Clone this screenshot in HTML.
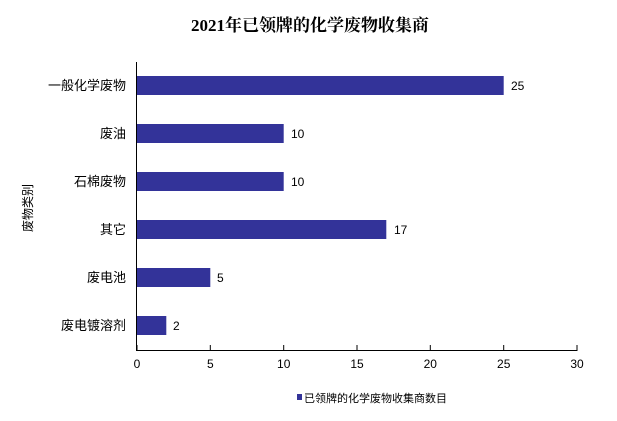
<!DOCTYPE html>
<html><head><meta charset="utf-8"><style>
html,body{margin:0;padding:0;background:#fff;}
svg{display:block;}
text{font-family:"Liberation Sans","Noto Sans CJK SC",sans-serif;fill:#000;}
</style></head><body>
<svg width="617" height="421" viewBox="0 0 617 421" xmlns="http://www.w3.org/2000/svg">
<text x="310" y="31" text-anchor="middle" style="font-family:'Liberation Serif','Noto Serif CJK SC',serif;font-size:17px;font-weight:bold;">2021年已领牌的化学废物收集商</text>
<g fill="#333399">
<rect x="137" y="76" width="366.7" height="19"/>
<rect x="137" y="124" width="146.7" height="19"/>
<rect x="137" y="172" width="146.7" height="19"/>
<rect x="137" y="220" width="249.3" height="19"/>
<rect x="137" y="268" width="73.3" height="19"/>
<rect x="137" y="316" width="29.3" height="19"/>
</g>
<g stroke="#000" stroke-width="1">
<line x1="136.5" y1="62" x2="136.5" y2="350"/>
<line x1="136" y1="350.5" x2="577.5" y2="350.5"/>
<line x1="137" y1="345" x2="137" y2="350"/>
<line x1="210.3" y1="345" x2="210.3" y2="350"/>
<line x1="283.7" y1="345" x2="283.7" y2="350"/>
<line x1="357" y1="345" x2="357" y2="350"/>
<line x1="430.3" y1="345" x2="430.3" y2="350"/>
<line x1="503.7" y1="345" x2="503.7" y2="350"/>
<line x1="577" y1="345" x2="577" y2="350"/>
</g>
<g font-size="12" text-anchor="middle">
<text x="137" y="368">0</text><text x="210.3" y="368">5</text><text x="283.7" y="368">10</text>
<text x="357" y="368">15</text><text x="430.3" y="368">20</text><text x="503.7" y="368">25</text><text x="577" y="368">30</text>
</g>
<g font-size="13" text-anchor="end">
<text x="126" y="90">一般化学废物</text>
<text x="126" y="138">废油</text>
<text x="126" y="186">石棉废物</text>
<text x="126" y="234">其它</text>
<text x="126" y="282">废电池</text>
<text x="126" y="330">废电镀溶剂</text>
</g>
<g font-size="12">
<text x="511" y="90">25</text>
<text x="291" y="138">10</text>
<text x="291" y="186">10</text>
<text x="394" y="234">17</text>
<text x="217" y="282">5</text>
<text x="173" y="330">2</text>
</g>
<text transform="translate(32,208) rotate(-90)" text-anchor="middle" font-size="12">废物类别</text>
<rect x="297" y="394" width="5" height="6" fill="#333399"/>
<text x="304" y="402" font-size="11">已领牌的化学废物收集商数目</text>
</svg>
</body></html>
